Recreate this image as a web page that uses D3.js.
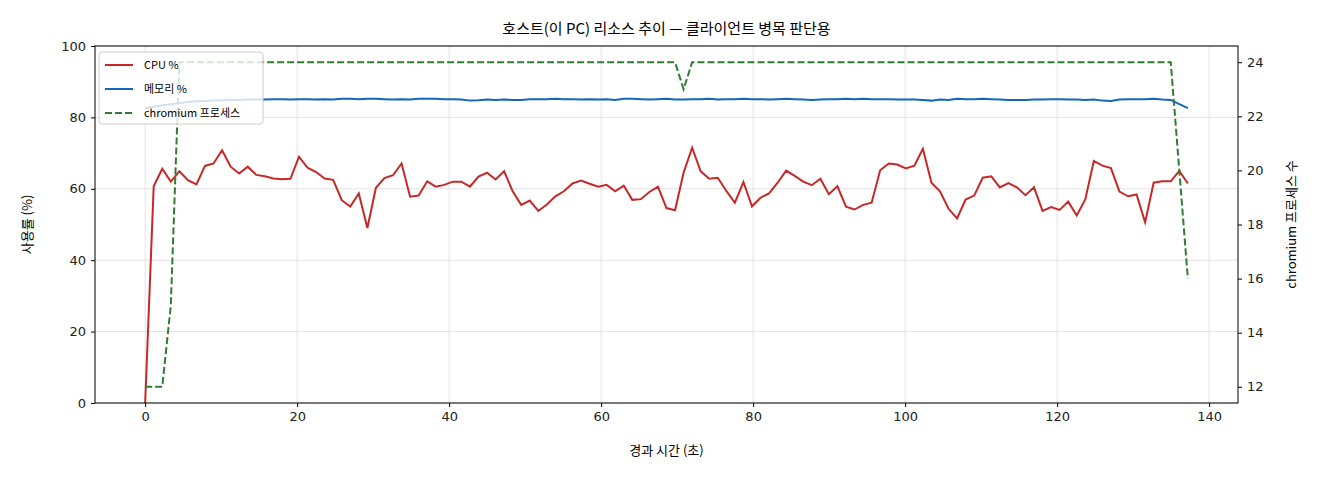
<!DOCTYPE html>
<html><head><meta charset="utf-8">
<script src="https://cdn.jsdelivr.net/npm/d3@7/dist/d3.min.js"></script>
<style>body{margin:0;background:#fff}text{font-family:"Noto Sans CJK KR","DejaVu Sans",sans-serif}</style>
</head><body><svg id="c" width="1320" height="480"></svg>
<script>
const interval = 137.2/122;
const cpu = [0,60.7,65.6,62,64.9,62.4,61.2,66.4,67.1,70.8,66.2,64.3,66.2,63.9,63.5,62.9,62.7,62.8,69,65.9,64.7,62.9,62.5,56.8,55,58.7,49,60.3,63,63.8,67.1,57.8,58.1,62.1,60.6,61.1,62,62,60.6,63.4,64.5,62.6,64.9,59.3,
55.5,56.7,53.8,55.6,57.9,59.3,61.5,62.3,61.4,60.6,61.1,59.3,60.9,56.9,57.1,59.1,60.6,54.6,54,64.5,71.5,64.9,62.8,63.1,59.4,56.1,61.9,55.1,57.5,58.7,61.7,65.1,63.6,62,61,62.8,58.5,60.7,55,54.2,55.5,56.1,65.2,
67.1,66.8,65.7,66.5,71.2,61.7,59.3,54.4,51.7,57,58.1,63.1,63.5,60.4,61.6,60.4,58.2,60.4,53.8,54.9,54.1,56.4,52.5,57,67.8,66.5,65.8,59.2,57.9,58.4,50.6,61.7,62.1,62.1,65,61.5];
const mem = [82.6,83.0,83.4,83.7,84.0,84.3,84.5,84.6,84.7,84.8,84.9,84.9,85.0,85.0,85.0,85.1,85.1,85.0,85.1,85.1,85.0,85.1,85.0,85.2,85.2,85.1,85.2,85.2,85.1,85.0,85.1,85.0,85.2,85.2,85.2,85.1,85.1,85.0,84.7,84.8,85.0,84.9,85.0,84.9,84.9,85.1,85.1,85.1,85.2,85.1,85.1,85.0,85.1,85.0,85.1,84.9,85.2,85.2,85.1,85.0,85.1,85.2,85.0,85.0,85.1,85.1,85.2,85.0,85.1,85.1,85.2,85.1,85.1,85.0,85.1,85.2,85.1,85.0,84.9,85.0,85.1,85.1,85.2,85.1,85.2,85.1,85.1,85.1,85.0,85.0,85.0,84.9,84.7,85.0,84.9,85.2,85.1,85.1,85.2,85.1,85.0,84.9,84.9,84.9,85.0,85.0,85.1,85.1,85.0,85.0,84.9,85.0,84.7,84.6,85.0,85.1,85.1,85.1,85.2,85.0,84.9,83.7,82.6];
const procs = [12,12,12,15,24,24,24,24,24,24,24,24,24,24,24,24,24,24,24,24,24,24,24,24,24,24,24,24,24,24,24,24,24,24,24,24,24,24,24,24,24,24,24,24,24,24,24,24,24,24,24,24,24,24,24,24,24,24,24,24,24,24,24,23,24,24,24,24,24,24,24,24,24,24,24,24,24,24,24,24,24,24,24,24,24,24,24,24,24,24,24,24,24,24,24,24,24,24,24,24,24,24,24,24,24,24,24,24,24,24,24,24,24,24,24,24,24,24,24,24,24,20,16];
const xTicks=[0,20,40,60,80,100,120,140], yTicks=[0,20,40,60,80,100], y2Ticks=[12,14,16,18,20,22,24];
const labels={title:"호스트(이 PC) 리소스 추이 — 클라이언트 병목 판단용",x:"경과 시간 (초)",y:"사용률 (%)",y2:"chromium 프로세스 수",cpu:"CPU %",mem:"메모리 %",proc:"chromium 프로세스"};

const svg=d3.select("#c");
const L=95,R=1238,T=46,B=403;
const x=d3.scaleLinear().domain([-6.6,143.8]).range([L,R]);
const y=d3.scaleLinear().domain([0,100]).range([B,T]);
const y2=d3.scaleLinear().domain([11.4,24.6]).range([B,T]);
const g=svg.append("g");
g.selectAll(".gx").data(xTicks).join("line").attr("x1",d=>x(d)).attr("x2",d=>x(d)).attr("y1",T).attr("y2",B).attr("stroke","#e3e3e3");
g.selectAll(".gy").data(yTicks).join("line").attr("y1",d=>y(d)).attr("y2",d=>y(d)).attr("x1",L).attr("x2",R).attr("stroke","#e3e3e3");
const ln=(ys,sc)=>d3.line().x((d,i)=>x(i*interval)).y(d=>sc(d))(ys.slice(0,cpu.length));
svg.append("path").attr("d",ln(cpu,y)).attr("fill","none").attr("stroke","#c62828").attr("stroke-width",2);
svg.append("path").attr("d",ln(mem,y)).attr("fill","none").attr("stroke","#1565c0").attr("stroke-width",2);
svg.append("path").attr("d",ln(procs,y2)).attr("fill","none").attr("stroke","#2e7d32").attr("stroke-width",2).attr("stroke-dasharray","7,3");
svg.append("rect").attr("x",L).attr("y",T).attr("width",R-L).attr("height",B-T).attr("fill","none").attr("stroke","#000");
const fs=13;
const ax=svg.append("g").attr("transform",`translate(0,${B})`).call(d3.axisBottom(x).tickValues(xTicks).tickSize(4).tickPadding(5));
const ay=svg.append("g").attr("transform",`translate(${L},0)`).call(d3.axisLeft(y).tickValues(yTicks).tickSize(4).tickPadding(5));
const ay2=svg.append("g").attr("transform",`translate(${R},0)`).call(d3.axisRight(y2).tickValues(y2Ticks).tickSize(4).tickPadding(5));
[ax,ay,ay2].forEach(a=>{a.select(".domain").remove();a.selectAll("text").attr("font-size",fs).attr("fill","#222").style("font-family","'DejaVu Sans',sans-serif");});
svg.append("text").attr("x",(L+R)/2).attr("y",34).attr("text-anchor","middle").attr("font-size",15).text(labels.title);
svg.append("text").attr("x",(L+R)/2).attr("y",455).attr("text-anchor","middle").attr("font-size",13).text(labels.x);
svg.append("text").attr("transform",`translate(32,${(T+B)/2}) rotate(-90)`).attr("text-anchor","middle").attr("font-size",13).text(labels.y);
svg.append("text").attr("transform",`translate(1296,${(T+B)/2}) rotate(-90)`).attr("text-anchor","middle").attr("font-size",13).text(labels.y2);
const lg=svg.append("g").attr("transform","translate(99,52)");
lg.append("rect").attr("width",164).attr("height",72).attr("rx",3).attr("fill","rgba(255,255,255,0.8)").attr("stroke","#ccc");
[[labels.cpu,"#c62828",null],[labels.mem,"#1565c0",null],[labels.proc,"#2e7d32","7,3"]].forEach((it,i)=>{
 const yy=13+i*24;
 lg.append("line").attr("x1",6).attr("x2",34).attr("y1",yy).attr("y2",yy).attr("stroke",it[1]).attr("stroke-width",2).attr("stroke-dasharray",it[2]);
 lg.append("text").attr("x",45).attr("y",yy+4).attr("font-size",11).text(it[0]);
});
</script></body></html>
